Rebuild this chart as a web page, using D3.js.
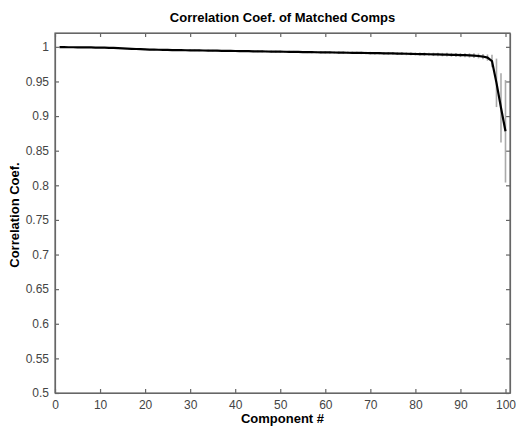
<!DOCTYPE html>
<html>
<head>
<meta charset="utf-8">
<script src="https://cdn.jsdelivr.net/npm/d3@7/dist/d3.min.js"></script>
<style>
  body { margin: 0; background: #fff; }
  #chart text { font-family: "Liberation Sans", Arial, sans-serif; }
  .axis path, .axis line { stroke: #666; stroke-width: 1.2; }
  .axis text { fill: #444; font-size: 12px; }
</style>
</head>
<body>
<div id="chart"></div>
<script>
// component numbers 1..100
var components = d3.range(1, 101);

// mean correlation coefficient per matched component
var meanCorr = [
  0.9995, 0.9995, 0.9994, 0.9994, 0.9993, 0.9993, 0.9992, 0.9991, 0.9990, 0.9989,
  0.9988, 0.9986, 0.9984, 0.9981, 0.9978, 0.9975, 0.9972, 0.9969, 0.9966, 0.9963,
  0.9961, 0.9959, 0.9958, 0.9956, 0.9955, 0.9954, 0.9953, 0.9952, 0.9951, 0.9950,
  0.9949, 0.9948, 0.9947, 0.9946, 0.9945, 0.9944, 0.9943, 0.9942, 0.9941, 0.9940,
  0.9939, 0.9938, 0.9937, 0.9936, 0.9935, 0.9934, 0.9933, 0.9932, 0.9931, 0.9930,
  0.9929, 0.9928, 0.9927, 0.9926, 0.9925, 0.9924, 0.9923, 0.9922, 0.9921, 0.9920,
  0.9919, 0.9918, 0.9917, 0.9916, 0.9915, 0.9914, 0.9913, 0.9912, 0.9911, 0.9910,
  0.9909, 0.9908, 0.9907, 0.9906, 0.9905, 0.9903, 0.9902, 0.9900, 0.9899, 0.9897,
  0.9896, 0.9894, 0.9893, 0.9891, 0.9890, 0.9888, 0.9887, 0.9885, 0.9883, 0.9881,
  0.9879, 0.9876, 0.9873, 0.9868, 0.9860, 0.9845, 0.9795, 0.9480, 0.9120, 0.8780
];

// half-length of error bar (std) per component
var stdCorr = [
  0.0004, 0.0004, 0.0004, 0.0004, 0.0004, 0.0004, 0.0005, 0.0005, 0.0005, 0.0005,
  0.0005, 0.0006, 0.0006, 0.0006, 0.0007, 0.0007, 0.0007, 0.0008, 0.0008, 0.0008,
  0.0008, 0.0008, 0.0009, 0.0009, 0.0009, 0.0009, 0.0009, 0.0010, 0.0010, 0.0010,
  0.0010, 0.0010, 0.0010, 0.0011, 0.0011, 0.0011, 0.0011, 0.0011, 0.0011, 0.0012,
  0.0012, 0.0012, 0.0012, 0.0012, 0.0012, 0.0013, 0.0013, 0.0013, 0.0013, 0.0013,
  0.0013, 0.0014, 0.0014, 0.0014, 0.0014, 0.0014, 0.0015, 0.0015, 0.0015, 0.0015,
  0.0015, 0.0016, 0.0016, 0.0016, 0.0016, 0.0017, 0.0017, 0.0017, 0.0017, 0.0018,
  0.0018, 0.0018, 0.0019, 0.0019, 0.0019, 0.0020, 0.0020, 0.0021, 0.0021, 0.0022,
  0.0022, 0.0023, 0.0023, 0.0024, 0.0025, 0.0025, 0.0026, 0.0027, 0.0028, 0.0029,
  0.0030, 0.0031, 0.0033, 0.0035, 0.0038, 0.0045, 0.0090, 0.0350, 0.0500, 0.0740
];

var xTicks = [0, 10, 20, 30, 40, 50, 60, 70, 80, 90, 100];
var yTicks = [0.5, 0.55, 0.6, 0.65, 0.7, 0.75, 0.8, 0.85, 0.9, 0.95, 1];

function init(){

    var w = 516;
    var h = 426;
    var left = 55, right = 510, top = 33, bottom = 393;

    var dataset = components.map(function(c, i) {
        return { comp: c, mean: meanCorr[i], sd: stdCorr[i] };
    });

    var xScale = d3.scaleLinear().domain([0, 101]).range([left, right]);
    var yScale = d3.scaleLinear().domain([0.5, 1.02]).range([bottom, top]);

    var svg = d3.select("#chart")
                .append("svg")
                .attr("width", w)
                .attr("height", h);

    // box with inward ticks (matlab style)
    svg.append("g")
        .attr("class", "axis")
        .attr("transform", "translate(0," + bottom + ")")
        .call(d3.axisBottom(xScale).tickValues(xTicks).tickSizeInner(-4).tickSizeOuter(0).tickPadding(7));

    svg.append("g")
        .attr("class", "axis")
        .attr("transform", "translate(0," + top + ")")
        .call(d3.axisTop(xScale).tickValues(xTicks).tickSizeInner(-4).tickSizeOuter(0).tickFormat(""));

    svg.append("g")
        .attr("class", "axis")
        .attr("transform", "translate(" + left + ",0)")
        .call(d3.axisLeft(yScale).tickValues(yTicks).tickSizeInner(-4).tickSizeOuter(0).tickPadding(6)
              .tickFormat(function(d) { return d3.format("")(+d.toFixed(2)); }));

    svg.append("g")
        .attr("class", "axis")
        .attr("transform", "translate(" + right + ",0)")
        .call(d3.axisRight(yScale).tickValues(yTicks).tickSizeInner(-4).tickSizeOuter(0).tickFormat(""));

    //error bars
    svg.selectAll("line.err")
        .data(dataset)
        .enter()
        .append("line")
        .attr("class", "err")
        .attr("x1", function(d) { return xScale(d.comp); })
        .attr("x2", function(d) { return xScale(d.comp); })
        .attr("y1", function(d) { return yScale(d.mean - d.sd); })
        .attr("y2", function(d) { return yScale(d.mean + d.sd); })
        .attr("stroke", "#aaa")
        .attr("stroke-width", 1.6);

    var line = d3.line()
                .x(function(d) { return xScale(d.comp); })
                .y(function(d) { return yScale(d.mean); });

    svg.append("path")
        .datum(dataset)
        .attr("d", line)
        .attr("fill", "none")
        .attr("stroke", "#000")
        .attr("stroke-width", 2.2);

    // the axis lines
    svg.append("rect")
        .attr("x", left).attr("y", top)
        .attr("width", right - left).attr("height", bottom - top)
        .attr("fill", "none").attr("stroke", "#666").attr("stroke-width", 1.2);

    svg.append("text")
        .attr("x", (left + right) / 2)
        .attr("y", 22)
        .attr("text-anchor", "middle")
        .style("font-size", "13px")
        .style("font-weight", "bold")
        .text("Correlation Coef. of Matched Comps");

    svg.append("text")
        .attr("x", (left + right) / 2)
        .attr("y", 423)
        .attr("text-anchor", "middle")
        .style("font-size", "13px")
        .style("font-weight", "bold")
        .text("Component #");

    svg.append("text")
        .attr("transform", "translate(19,215) rotate(-90)")
        .attr("text-anchor", "middle")
        .style("font-size", "13px")
        .style("font-weight", "bold")
        .text("Correlation Coef.");
}
window.onload = init;
</script>
</body>
</html>
